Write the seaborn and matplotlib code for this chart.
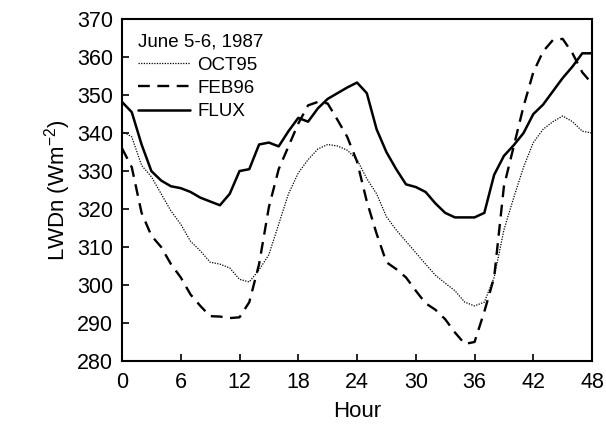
import numpy as np
import pandas as pd
import matplotlib
matplotlib.use("Agg")
import matplotlib.pyplot as plt
import seaborn as sns

# heures (pas de 1 h sur 48 h)
hours = list(range(0, 49))

flux = [348.2, 345.5, 337.0, 330.0, 327.5, 326.0, 325.5, 324.5, 323.0, 322.0,
        321.0, 324.0, 330.0, 330.5, 337.0, 337.5, 336.5, 340.5, 344.0, 343.0,
        346.5, 349.0, 350.5, 352.0, 353.3, 350.5, 341.0, 335.0, 330.5, 326.5,
        325.8, 324.5, 321.5, 319.0, 317.8, 317.8, 317.8, 319.0, 329.0, 334.0,
        336.8, 340.0, 345.0, 347.5, 351.0, 354.5, 357.5, 361.0, 361.0]

oct95 = [340.5, 339.0, 331.5, 328.5, 324.0, 319.5, 316.0, 311.5, 309.0, 306.0,
         305.5, 304.5, 301.5, 300.8, 304.0, 308.0, 316.0, 324.0, 329.5, 333.0,
         335.8, 337.0, 336.6, 335.5, 333.0, 328.0, 324.0, 318.0, 314.5, 311.5,
         308.5, 305.5, 302.6, 300.5, 298.5, 295.5, 294.5, 295.5, 302.0, 314.5,
         323.0, 331.0, 337.5, 341.0, 343.0, 344.5, 343.0, 340.5, 340.0]

feb96 = [336.0, 331.0, 319.0, 313.0, 310.0, 305.5, 302.0, 297.5, 294.5, 291.8,
         291.7, 291.3, 291.5, 295.5, 305.5, 320.5, 330.5, 336.5, 342.5, 347.3,
         348.2, 347.8, 343.5, 339.0, 332.5, 322.0, 313.5, 306.0, 304.2, 302.0,
         298.5, 295.2, 293.5, 291.0, 287.5, 284.5, 285.0, 293.0, 302.0, 326.0,
         336.5, 347.0, 356.0, 361.5, 364.5, 364.8, 361.0, 356.0, 353.0]

xticks = [0, 6, 12, 18, 24, 30, 36, 42, 48]
yticks = list(range(280, 371, 10))

df = pd.DataFrame({"Hour": hours * 3,
                   "LWDn": oct95 + feb96 + flux,
                   "serie": ["OCT95"] * 49 + ["FEB96"] * 49 + ["FLUX"] * 49})

sns.set_style("ticks")
plt.rcParams["font.family"] = ["Liberation Sans", "DejaVu Sans"]
plt.rcParams["mathtext.default"] = "regular"
for k in ["text.color", "axes.labelcolor", "xtick.color", "ytick.color", "axes.edgecolor"]:
    plt.rcParams[k] = "black"

fig = plt.figure(figsize=(6.06, 4.25), dpi=100)
ax = fig.add_axes([0.2013, 0.1506, 0.7757, 0.8044])

styles = {"OCT95": dict(lw=0.9, ls=(0, (1, 1.1))),
          "FEB96": dict(lw=1.7, ls=(0, (5, 3.2))),
          "FLUX": dict(lw=1.8, ls="-")}
for name, st in styles.items():
    sns.lineplot(data=df[df["serie"] == name], x="Hour", y="LWDn", ax=ax,
                 color="black", label=name, linewidth=st["lw"], linestyle=st["ls"])

ax.set_xlim(0, 48)
ax.set_ylim(280, 370)
ax.set_xticks(xticks)
ax.set_yticks(yticks)
ax.tick_params(direction="in", length=5, width=1.2, labelsize=15.5,
               top=False, right=False)
ax.tick_params(axis="x", pad=8)
ax.tick_params(axis="y", pad=6.5)
for sp in ax.spines.values():
    sp.set_linewidth(1.5)
ax.set_xlabel("Hour", fontsize=16, labelpad=6)
ax.set_ylabel("LWDn (Wm$^{-2}$)", fontsize=16, labelpad=3)

leg = ax.legend(title="June 5-6, 1987", loc="upper left", frameon=False,
                fontsize=13.5, title_fontsize=13.5, handlelength=2.8,
                handletextpad=0.35, labelspacing=0.32, borderaxespad=0.2,
                alignment="left", bbox_to_anchor=(0.01, 0.99))

fig.savefig("out.png", dpi=100)
